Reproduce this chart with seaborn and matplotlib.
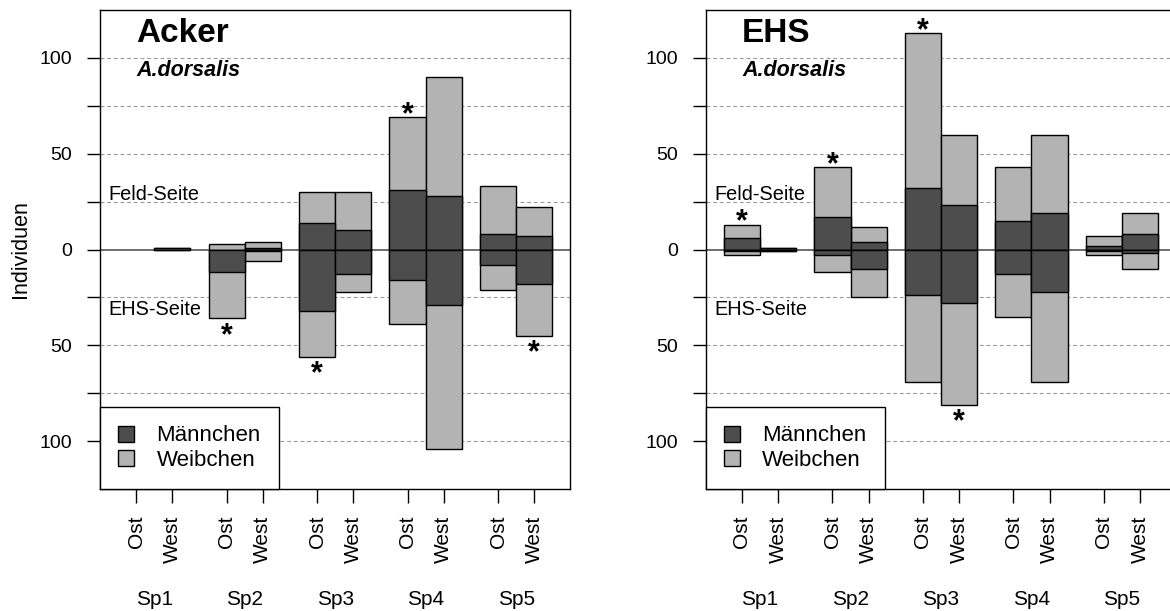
import numpy as np
import pandas as pd
import matplotlib
matplotlib.use("Agg")
import matplotlib.pyplot as plt
import seaborn as sns
from matplotlib.patches import Patch

# ---- data -------------------------------------------------------------
species = ["Sp1", "Sp2", "Sp3", "Sp4", "Sp5"]
sides = ["Ost", "West"]

# Acker: counts per bar (Sp1 Ost, Sp1 West, Sp2 Ost, ... , Sp5 West)
acker_feld_maennchen = [0, 1, 0, 1, 14, 10, 31, 28, 8, 7]
acker_feld_gesamt = [0, 1, 3, 4, 30, 30, 69, 90, 33, 22]
acker_ehs_maennchen = [0, 0, 12, 1, 32, 13, 16, 29, 8, 18]
acker_ehs_gesamt = [0, 0, 36, 6, 56, 22, 39, 104, 21, 45]
acker_signif_feld = [6]
acker_signif_ehs = [2, 4, 9]

# EHS
ehs_feld_maennchen = [6, 1, 17, 4, 32, 23, 15, 19, 2, 8]
ehs_feld_gesamt = [13, 1, 43, 12, 113, 60, 43, 60, 7, 19]
ehs_ehs_maennchen = [1, 1, 3, 10, 24, 28, 13, 22, 1, 2]
ehs_ehs_gesamt = [3, 1, 12, 25, 69, 81, 35, 69, 3, 10]
ehs_signif_feld = [0, 2, 4]
ehs_signif_ehs = [5]

ytick_values = [-100, -75, -50, -25, 0, 25, 50, 75, 100]
ytick_labels = ["100", "", "50", "", "0", "", "50", "", "100"]

# ---- style ------------------------------------------------------------
sns.set_theme(style="ticks")
plt.rcParams["font.family"] = ["Liberation Sans", "DejaVu Sans"]
plt.rcParams.update({
    "axes.edgecolor": "black",
    "axes.linewidth": 1.0,
    "text.color": "black",
    "axes.labelcolor": "black",
    "xtick.color": "black",
    "ytick.color": "black",
})

DARK = "#4d4d4d"
LIGHT = "#b3b3b3"
W, H = 1170, 611

fig = plt.figure(figsize=(W / 100, H / 100), dpi=100)


def bar_table(feld_m, feld_t, ehs_m, ehs_t):
    rows = []
    for g, sp in enumerate(species):
        for s, side in enumerate(sides):
            i = 2 * g + s
            rows.append({
                "pos": g * 2.5 + s,
                "gruppe": sp,
                "seite": side,
                "feld_m": feld_m[i],
                "feld_t": feld_t[i],
                "ehs_m": -ehs_m[i],
                "ehs_t": -ehs_t[i],
            })
    return pd.DataFrame(rows)


def panel(ax, df, title, sig_feld, sig_ehs):
    # reference lines behind the bars
    for v in ytick_values:
        if v == 0:
            ax.axhline(0, color="#555555", lw=1.2, zorder=0)
        else:
            ax.axhline(v, color="#9a9a9a", lw=0.8, ls=(0, (3.5, 2.5)), zorder=0)

    # stacked bars: totals (Weibchen part) first, Männchen part on top
    for col, colour in [("feld_t", LIGHT), ("feld_m", DARK),
                        ("ehs_t", LIGHT), ("ehs_m", DARK)]:
        sub = df[df[col] != 0]
        sns.barplot(data=sub, x="pos", y=col, native_scale=True, orient="x",
                    width=1, color=colour, saturation=1, edgecolor="black",
                    linewidth=1.0, errorbar=None, ax=ax, zorder=2)

    # significance stars
    star_kw = dict(xytext=(0, -10.5), textcoords="offset points", ha="center",
                   va="baseline", fontsize=22, fontweight="bold", color="black")
    for i in sig_feld:
        ax.annotate("*", (df["pos"][i], df["feld_t"][i] + 4.5), **star_kw)
    for i in sig_ehs:
        ax.annotate("*", (df["pos"][i], df["ehs_t"][i] - 5.8), **star_kw)

    ax.set_xlim(-1, 12)
    ax.set_ylim(-125, 125)
    ax.set_yticks(ytick_values)
    ax.set_yticklabels(ytick_labels)
    ax.set_xticks(df["pos"])
    ax.set_xticklabels(df["seite"], rotation=90, va="top", ha="center")
    ax.tick_params(axis="y", length=9.5, width=1.0, pad=10.5, labelsize=14,
                   colors="black")
    ax.tick_params(axis="x", length=10, width=1.0, pad=9, labelsize=15,
                   colors="black")
    ax.set_xlabel("")
    ax.set_ylabel("")
    for sp in ax.spines.values():
        sp.set_visible(True)
        sp.set_color("black")
        sp.set_linewidth(1.0)

    # group names under the Ost/West labels
    for g, sp in enumerate(species):
        ax.text(g * 2.5 + 0.5, -0.2422, sp, transform=ax.get_xaxis_transform(),
                ha="center", va="baseline", fontsize=15, color="black")

    ax.text(0, 108.5, title, ha="left", va="baseline", fontsize=24,
            fontweight="bold", color="black")
    ax.text(0, 90.7, "A.dorsalis", ha="left", va="baseline", fontsize=15.5,
            fontweight="bold", fontstyle="italic", color="black")
    ax.text(0.018, 26, "Feld-Seite", transform=ax.get_yaxis_transform(),
            ha="left", va="baseline", fontsize=14.3, color="black")
    ax.text(0.018, -34.3, "EHS-Seite", transform=ax.get_yaxis_transform(),
            ha="left", va="baseline", fontsize=14.3, color="black")

    handles = [Patch(facecolor=DARK, edgecolor="black", lw=1.0),
               Patch(facecolor=LIGHT, edgecolor="black", lw=1.0)]
    leg = ax.legend(handles, ["Männchen", "Weibchen"], loc="lower left",
                    bbox_to_anchor=(0, 0), borderaxespad=0, fancybox=False,
                    frameon=True, framealpha=1, edgecolor="black",
                    fontsize=16, handlelength=0.72, handleheight=0.72,
                    handletextpad=1.0, borderpad=0.82, labelspacing=0.15)
    leg.get_frame().set_linewidth(1.0)
    for t in leg.get_texts():
        t.set_color("black")
    leg.set_zorder(5)


ax_w = 470.4 / W
ax_h = 479 / H
ax_b = 1 - 489 / H

ax1 = fig.add_axes([100 / W, ax_b, ax_w, ax_h])
ax2 = fig.add_axes([705.8 / W, ax_b, ax_w, ax_h])

panel(ax1, bar_table(acker_feld_maennchen, acker_feld_gesamt,
                     acker_ehs_maennchen, acker_ehs_gesamt),
      "Acker", acker_signif_feld, acker_signif_ehs)
panel(ax2, bar_table(ehs_feld_maennchen, ehs_feld_gesamt,
                     ehs_ehs_maennchen, ehs_ehs_gesamt),
      "EHS", ehs_signif_feld, ehs_signif_ehs)

fig.text(20.5 / W, 1 - 249.3 / H, "Individuen", rotation=90, ha="center",
         va="center", fontsize=15.5, color="black")

fig.savefig("out.png", dpi=100)
